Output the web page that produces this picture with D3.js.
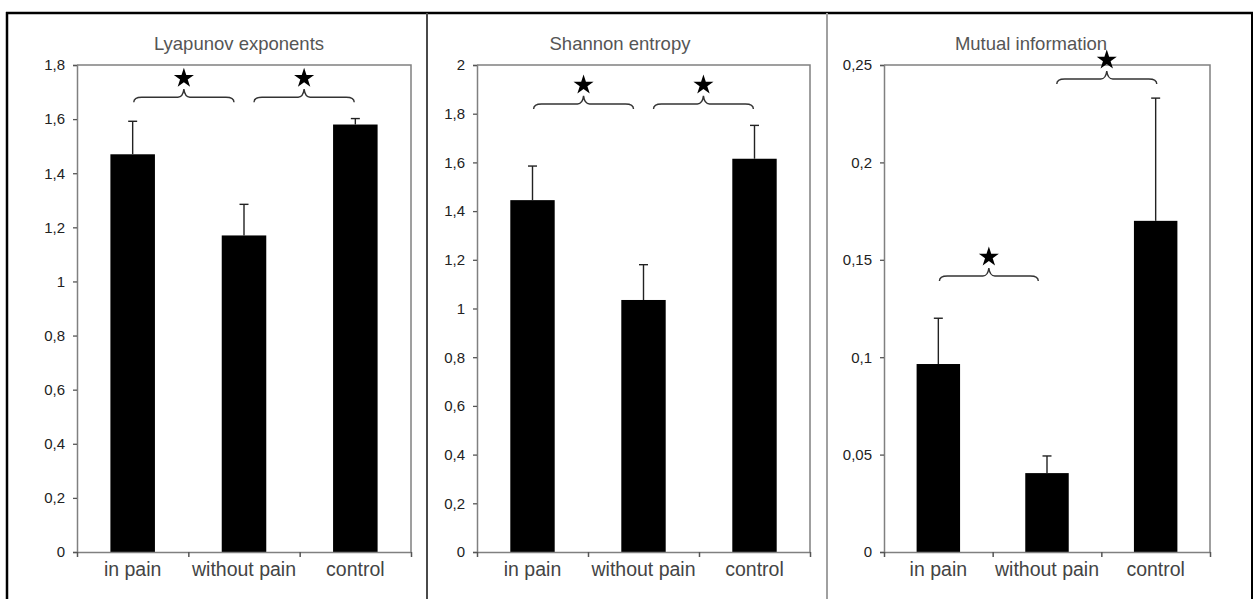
<!DOCTYPE html>
<html>
<head>
<meta charset="utf-8">
<script src="https://cdn.jsdelivr.net/npm/d3@7"></script>
<style>
  html, body { margin: 0; padding: 0; background: #fff; }
  svg { display: block; }
</style>
</head>
<body>
<svg id="chart" width="1254" height="599"></svg>
<script>
// categories shared by all three panels
const categories = ["in pain", "without pain", "control"];

// Lyapunov exponents
const lyapunovMeans = [1.47, 1.17, 1.58];
const lyapunovErrors = [0.122, 0.115, 0.022];
const lyapunovTicks = [0, 0.2, 0.4, 0.6, 0.8, 1, 1.2, 1.4, 1.6, 1.8];
// brace: [from category pos, to category pos, level]
const lyapunovBraces = [[0.51, 1.41, 1.681], [1.59, 2.49, 1.681]];

// Shannon entropy
const shannonMeans = [1.445, 1.035, 1.615];
const shannonErrors = [0.14, 0.145, 0.137];
const shannonTicks = [0, 0.2, 0.4, 0.6, 0.8, 1, 1.2, 1.4, 1.6, 1.8, 2];
const shannonBraces = [[0.51, 1.41, 1.84], [1.59, 2.49, 1.84]];

// Mutual information
const mutualMeans = [0.0965, 0.0405, 0.170];
const mutualErrors = [0.0235, 0.0088, 0.063];
const mutualTicks = [0, 0.05, 0.1, 0.15, 0.2, 0.25];
const mutualBraces = [[0.51, 1.42, 0.1417], [1.59, 2.51, 0.2428]];

const titles = ["Lyapunov exponents", "Shannon entropy", "Mutual information"];

// layout of each panel (pixels)
const panels = [
  { left: 77, right: 411, titleX: 239, max: 1.8, means: lyapunovMeans, errs: lyapunovErrors, ticks: lyapunovTicks, braces: lyapunovBraces },
  { left: 477, right: 810, titleX: 620, max: 2, means: shannonMeans, errs: shannonErrors, ticks: shannonTicks, braces: shannonBraces },
  { left: 884, right: 1210, titleX: 1031, max: 0.25, means: mutualMeans, errs: mutualErrors, ticks: mutualTicks, braces: mutualBraces }
];
const plotTop = 65, plotBottom = 552;

const comma = d3.formatLocale({ decimal: ",", thousands: ".", grouping: [3], currency: ["", ""] }).format("~g");

const svg = d3.select("#chart");

// outer frame and panel dividers
svg.append("line").attr("x1", 7).attr("x2", 7).attr("y1", 12).attr("y2", 599)
  .attr("stroke", "#000").attr("stroke-width", 2.5);
svg.append("line").attr("x1", 6).attr("x2", 1253).attr("y1", 13).attr("y2", 13)
  .attr("stroke", "#000").attr("stroke-width", 2.5);
svg.append("line").attr("x1", 1252).attr("x2", 1252).attr("y1", 12).attr("y2", 599)
  .attr("stroke", "#000").attr("stroke-width", 2);
svg.append("line").attr("x1", 427).attr("x2", 427).attr("y1", 13).attr("y2", 599)
  .attr("stroke", "#4a4a4a").attr("stroke-width", 2);
svg.append("line").attr("x1", 827).attr("x2", 827).attr("y1", 13).attr("y2", 599)
  .attr("stroke", "#a0a0a0").attr("stroke-width", 2);

const star = d3.symbol().type(d3.symbolStar).size(125);

panels.forEach((p, k) => {
  const w = p.right - p.left;
  const h = plotBottom - plotTop;
  const g = svg.append("g").attr("transform", `translate(${p.left},${plotTop})`);

  const x = d3.scaleBand().domain(categories).range([0, w]).paddingInner(0.6).paddingOuter(0.3);
  const xPos = d3.scaleLinear().domain([0, 3]).range([0, w]);
  const y = d3.scaleLinear().domain([0, p.max]).range([h, 0]);

  // title
  svg.append("text")
    .attr("x", p.titleX).attr("y", 50)
    .attr("text-anchor", "middle")
    .attr("font-family", "Liberation Sans")
    .attr("font-size", 18.5)
    .attr("fill", "#555")
    .text(titles[k]);

  // plot area border (top and right)
  g.append("path")
    .attr("d", `M0,0H${w}V${h}`)
    .attr("fill", "none").attr("stroke", "#808080").attr("stroke-width", 1.5);

  // bars
  g.selectAll(".bar")
    .data(p.means)
    .enter().append("rect")
    .attr("class", "bar")
    .attr("x", (d, i) => x(categories[i]))
    .attr("y", d => y(d))
    .attr("width", x.bandwidth())
    .attr("height", d => h - y(d))
    .attr("fill", "#000");

  // error bars
  const eb = g.selectAll(".err")
    .data(p.means.map((m, i) => ({ m: m, e: p.errs[i], c: categories[i] })))
    .enter().append("g").attr("class", "err")
    .attr("stroke", "#222").attr("stroke-width", 1.4);
  eb.append("line")
    .attr("x1", d => x(d.c) + x.bandwidth() / 2).attr("x2", d => x(d.c) + x.bandwidth() / 2)
    .attr("y1", d => y(d.m)).attr("y2", d => y(d.m + d.e));
  eb.append("line")
    .attr("x1", d => x(d.c) + x.bandwidth() / 2 - 4.5).attr("x2", d => x(d.c) + x.bandwidth() / 2 + 4.5)
    .attr("y1", d => y(d.m + d.e)).attr("y2", d => y(d.m + d.e));

  // y axis
  const yAxis = g.append("g")
    .call(d3.axisLeft(y).tickValues(p.ticks).tickSize(4).tickPadding(8).tickFormat(comma));
  yAxis.select(".domain").attr("stroke", "#808080").attr("stroke-width", 1.5);
  yAxis.selectAll(".tick line").attr("stroke", "#555").attr("stroke-width", 1.3);
  yAxis.selectAll("text")
    .attr("font-family", "Liberation Sans").attr("font-size", 15).attr("fill", "#222");

  // x axis: labels at band centres, ticks at band boundaries
  const xAxis = g.append("g").attr("transform", `translate(0,${h})`)
    .call(d3.axisBottom(x).tickSize(0).tickPadding(10));
  xAxis.select(".domain").attr("stroke", "#808080").attr("stroke-width", 1.5);
  xAxis.selectAll("text")
    .attr("font-family", "Liberation Sans").attr("font-size", 19.5).attr("fill", "#444");

  const xTicks = g.append("g").attr("transform", `translate(0,${h})`)
    .call(d3.axisBottom(xPos).tickValues([0, 1, 2, 3]).tickSize(5).tickFormat(""));
  xTicks.select(".domain").remove();
  xTicks.selectAll(".tick line").attr("stroke", "#555").attr("stroke-width", 1.5);

  // significance braces with stars
  p.braces.forEach(b => {
    const x0 = xPos(b[0]), x1 = xPos(b[1]), xm = (x0 + x1) / 2, yf = y(b[2]);
    g.append("path")
      .attr("d", `M${x0},${yf + 5}Q${x0},${yf} ${x0 + 8},${yf}L${xm - 6},${yf}Q${xm - 1},${yf} ${xm},${yf - 8}` +
        `Q${xm + 1},${yf} ${xm + 6},${yf}L${x1 - 8},${yf}Q${x1},${yf} ${x1},${yf + 5}`)
      .attr("fill", "none").attr("stroke", "#333").attr("stroke-width", 1.4);
    g.append("path")
      .attr("d", star)
      .attr("transform", `translate(${xm},${yf - 19})`)
      .attr("fill", "#000");
  });
});
</script>
</body>
</html>
